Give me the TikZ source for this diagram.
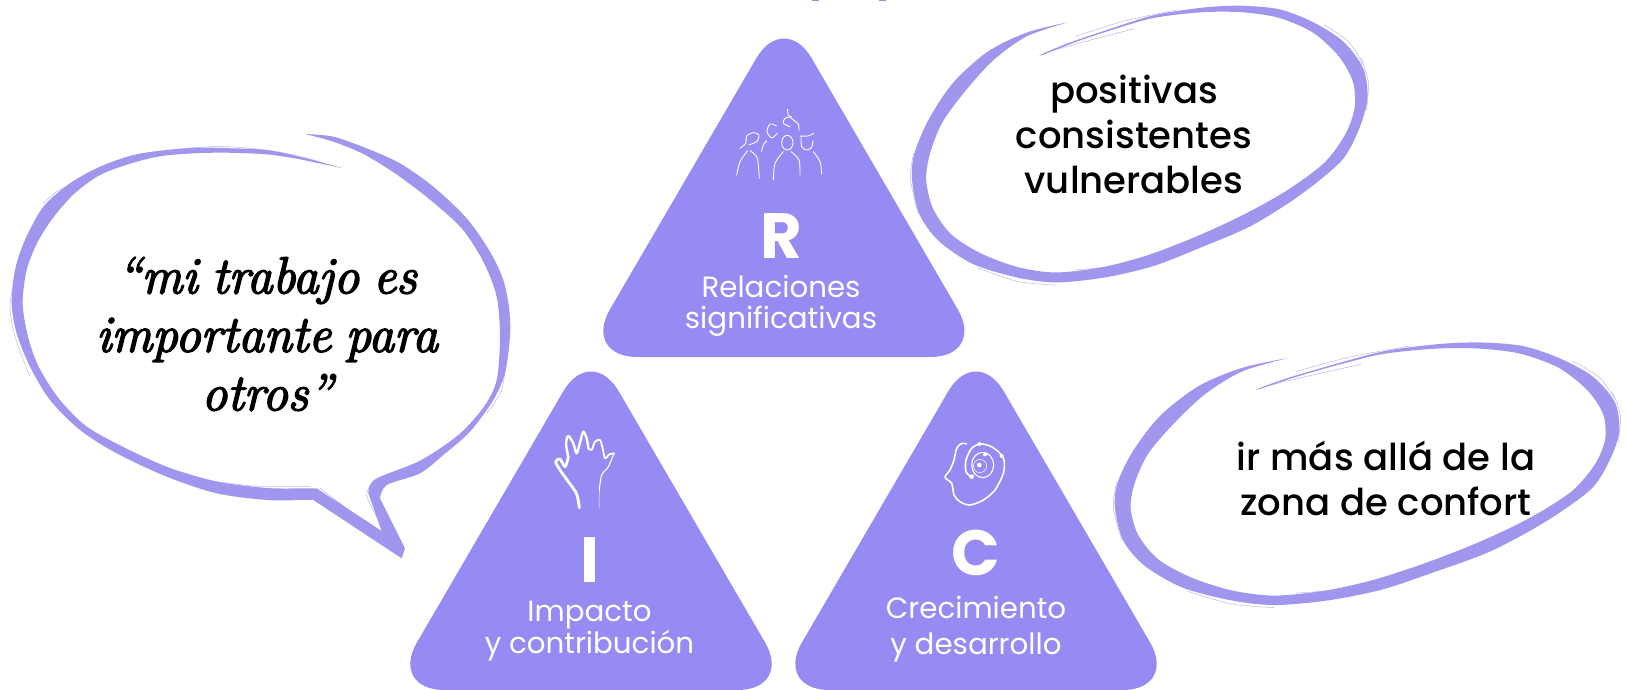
\documentclass[tikz,border=0pt]{standalone}
\usepackage{fontspec}
\setmainfont{Poppins}
\newfontfamily\popmed{Poppins Medium}
\newfontfamily\popbold{Poppins}[UprightFont=* Bold]
\newfontfamily\handfont{Latin Modern Roman}[Ligatures=TeX,FakeStretch=.98,WordSpace=.8,FakeBold=3]
\definecolor{triviolet}{HTML}{958BF2}
\definecolor{brush}{HTML}{A096EE}
\tikzset{
  tri/.style={fill=triviolet,rounded corners=55pt},
  brushfill/.style={fill=brush},
  dry/.style={draw=brush,line width=.5pt,opacity=.7},
  ico/.style={draw=white,line width=1pt,line cap=round,line join=round,fill=none},
  letter/.style={text=white,font=\popbold\fontsize{64}{64}\selectfont,inner sep=0pt,anchor=base},
  tlabel/.style={text=white,font=\fontsize{29.3}{31.5}\selectfont,align=center,inner sep=0pt},
  blabel/.style={text=black,font=\popmed\fontsize{37}{45}\selectfont,align=center,inner sep=0pt},
  hand/.style={text=black,font=\handfont\itshape\fontsize{52}{58.5}\selectfont,inner sep=0pt,align=center}
}
\newcommand{\ovalbrush}{%
  \fill[brushfill] plot[smooth] coordinates {(425,58)(340,85)(260,135)(190,215)(140,310)(110,400)(105,470)(120,560)(160,630)(230,690)(320,725)(400,738)(500,725)(600,695)(700,645)(800,590)(900,510)(985,420)(1020,340)(1038,260)(1030,180)(990,110)(930,60)(860,25)(780,15)(700,20)(600,40)(500,80)(420,115)(365,145)}
  -- plot[smooth] coordinates {(372,144)(440,110)(510,80)(600,47)(700,32)(780,32)(855,46)(925,84)(978,145)(1008,212)(1012,280)(994,348)(950,425)(870,500)(778,565)(680,622)(585,668)(495,698)(400,712)(322,698)(246,662)(185,612)(148,545)(134,470)(142,400)(167,320)(214,238)(272,157)(340,95)(425,58)} -- cycle;
  \draw[dry] plot[smooth] coordinates {(1025,150)(1040,215)(1036,290)};
  \draw[dry] plot[smooth] coordinates {(440,705)(520,695)(620,665)(720,620)};
  \draw[dry] plot[smooth] coordinates {(240,700)(320,735)(400,745)};
  \draw[dry] plot[smooth] coordinates {(118,560)(102,470)(108,400)};
  \draw[dry] plot[smooth] coordinates {(440,95)(540,55)(650,25)};
  \draw[dry] plot[smooth] coordinates {(385,135)(470,105)(560,75)};
  \draw[dry] plot[smooth] coordinates {(950,65)(1000,110)(1030,170)};
}
\begin{document}
\begin{tikzpicture}[x=1pt,y=-1pt]
\useasboundingbox (0,0) rectangle (1627,690);
% cut-off title descenders
\fill[triviolet] (812,0) rectangle (819,1.5);
\fill[triviolet] (879,0) rectangle (886,1.5);
% triangles
\fill[tri] (784,10.7) -- (985.5,357) -- (582.2,357) -- cycle;
\fill[tri] (591,343.7) -- (792.8,690) -- (389.2,690) -- cycle;
\fill[tri] (976,343.7) -- (1177.8,690) -- (774.2,690) -- cycle;
% left speech bubble
\begin{scope}[shift={(0,120)},scale=.33333]
\fill[brushfill] plot[smooth] coordinates {(915,42)(1000,50)(1100,85)(1200,130)(1300,200)(1400,295)(1470,395)(1510,480)(1528,570)(1530,650)(1515,760)(1480,840)(1410,935)(1330,1005)(1260,1060)(1160,1095)(1140,1135)}
  -- (1215,1285) -- (1205,1315) -- (940,1140)
  -- plot[smooth] coordinates {(900,1140)(800,1140)(650,1120)(500,1070)(350,1000)(240,930)(150,840)(90,740)(50,640)(35,550)(45,450)(75,360)(130,260)(210,190)(300,140)(400,105)(500,90)(600,83)(700,85)(800,90)(900,110)(1030,145)}
  -- plot[smooth] coordinates {(900,118)(800,103)(650,98)(500,106)(400,128)(300,165)(222,222)(158,295)(112,368)(80,450)(68,550)(84,650)(116,740)(176,835)(258,918)(368,980)(505,1042)(652,1085)(800,1104)(900,1105)}
  -- (950,1105) -- (1145,1233)
  -- plot[smooth] coordinates {(1105,1120)(1125,1078)(1260,1022)(1375,945)(1452,860)(1490,780)(1500,650)(1490,530)(1450,425)(1385,325)(1285,235)(1185,160)(1090,102)(1000,65)(915,42)} -- cycle;
\draw[dry] plot[smooth] coordinates {(450,100)(560,85)(680,80)(830,95)(960,125)};
\draw[dry] plot[smooth] coordinates {(45,470)(30,560)(45,650)(90,770)};
\draw[dry] plot[smooth] coordinates {(960,1105)(1060,1180)(1150,1250)};
\draw[dry] plot[smooth] coordinates {(1120,1085)(1100,1125)(1135,1200)};
\draw[dry] plot[smooth] coordinates {(600,1078)(760,1098)(930,1100)};
\draw[dry] plot[smooth] coordinates {(1520,700)(1505,810)(1460,880)};
\draw[dry] plot[smooth] coordinates {(130,250)(170,215)(210,195)};
\end{scope}
% right ovals
\begin{scope}[shift={(860.8,0)},xscale=.488,yscale=.3827]
\ovalbrush
\end{scope}
\begin{scope}[shift={(1058.2,337)},xscale=.5405,yscale=.3632]
\ovalbrush
\end{scope}
% icon: group
\begin{scope}[shift={(725,100)},scale=.33333,ico/.append style={line width=.9pt}]
\draw[ico] plot[smooth] coordinates {(45,145)(62,130)(65,108)(85,98)(102,105)(95,125)(72,134)};
\draw[ico] plot[smooth] coordinates {(35,225)(45,185)(68,152)};
\draw[ico] plot[smooth] coordinates {(76,152)(95,170)(100,195)(103,235)};
\draw[ico] plot[smooth] coordinates {(155,78)(135,72)(126,95)(140,114)(157,100)};
\draw[ico] plot[smooth] coordinates {(110,155)(114,137)(125,122)};
\draw[ico] plot[smooth] coordinates {(188,28)(190,45)(205,60)(220,72)(222,92)};
\draw[ico] plot[smooth] coordinates {(200,50)(180,55)(175,70)(195,80)};
\draw[ico] (187,128) ellipse [x radius=17,y radius=22];
\draw[ico] plot[smooth] coordinates {(145,240)(150,190)(175,155)};
\draw[ico] plot[smooth] coordinates {(198,155)(222,180)(225,225)};
\draw[ico] plot[smooth] coordinates {(225,108)(248,108)(267,100)};
\draw[ico] plot[smooth] coordinates {(228,110)(230,140)(245,150)(260,142)(264,122)};
\draw[ico] plot[smooth] coordinates {(265,155)(285,185)(290,222)};
\end{scope}
% icon: hand
\begin{scope}[shift={(540,420)},scale=.33333]
\draw[ico,line width=2.8pt] plot[smooth] coordinates {(118,263)(110,222)(85,185)(60,150)(47,125)(60,117)(75,140)(85,112)};
\draw[ico,line width=2.4pt] plot[smooth] coordinates {(85,112)(78,70)(85,48)(100,70)(110,100)(122,60)(130,35)(140,55)(145,85)};
\draw[ico,line width=1.8pt] plot[smooth] coordinates {(145,85)(155,90)(165,65)(180,60)(188,85)(195,115)(208,103)(222,100)};
\draw[ico,line width=1.1pt] plot[smooth] coordinates {(222,100)(205,140)(185,165)(178,210)};
\draw[ico,line width=.5pt] (178,210) -- (177,265);
\end{scope}
% icon: head
\begin{scope}[shift={(930,430)},scale=.33333]
\draw[ico,line width=1.6pt] plot[smooth] coordinates {(110,42)(95,40)(80,55)(72,90)(60,120)(45,142)(65,160)(72,195)(90,215)(120,225)(160,210)(195,180)(220,130)(222,90)(205,65)(180,48)(150,42)(125,55)(108,90)(108,125)(125,142)};
\draw[ico,line width=1.1pt] (158,105) ellipse [x radius=33,y radius=38];
\draw[ico,line width=.5pt] (150,108) circle [radius=20];
\fill[white] (148,42) circle [radius=6];
\fill[white] (215,78) circle [radius=6];
\fill[white] (125,140) circle [radius=7];
\fill[white] (165,73) circle [radius=6];
\fill[white] (148,105) circle [radius=7];
\end{scope}
% triangle texts
\node[letter] (letterR) at (781.5,258) {R};
\node[tlabel] (labelR) at (781,306) {Relaciones\\significativas};
\node[letter] (letterI) at (589.5,582.7) {I};
\node[tlabel] (labelI) at (589.5,631) {Impacto\\y contribución};
\node[letter] (letterC) at (976,575) {C};
\node[tlabel] (labelC) at (976,629) {Crecimiento\\[4pt]y desarrollo};
% bubble texts
\node[blabel] (textpos) at (1134,134) {positivas\\consistentes\\vulnerables};
\node[blabel] (textzona) at (1386,478) {ir más allá de la\\zona de confort};
\node[hand] (quote) at (267,334) {``mi trabajo es\\importante para\\otros''};
\end{tikzpicture}
\end{document}
